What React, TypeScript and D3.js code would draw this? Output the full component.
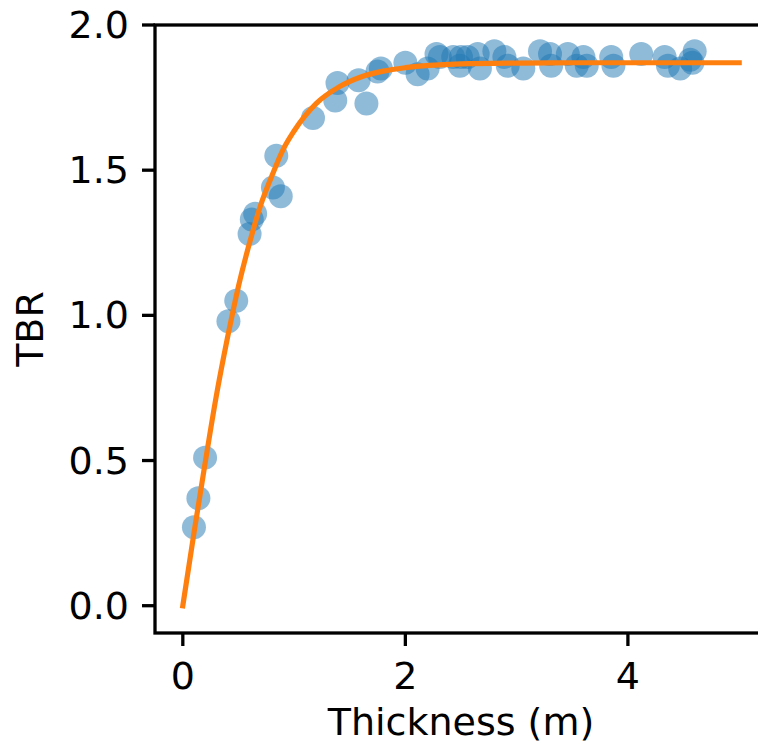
import { scaleLinear, line, curveMonotoneX } from 'd3'

// measured scatter points (thickness in m, TBR)
const thickness = [
  0.10, 0.14, 0.20, 0.41, 0.48, 0.60, 0.62, 0.65, 0.81, 0.88, 0.84,
  1.17, 1.37, 1.39, 1.58, 1.65, 1.75, 1.78, 2.00, 2.11, 2.20, 2.28,
  2.31, 2.43, 2.49, 2.50, 2.56, 2.65, 2.67, 2.80, 2.89, 2.92, 3.06,
  3.21, 3.30, 3.31, 3.46, 3.54, 3.60, 3.63, 3.85, 3.87, 4.12, 4.33,
  4.36, 4.47, 4.56, 4.60, 4.58,
]
const tbr = [
  0.27, 0.37, 0.51, 0.98, 1.05, 1.28, 1.33, 1.35, 1.44, 1.41, 1.55,
  1.68, 1.74, 1.80, 1.81, 1.73, 1.84, 1.85, 1.87, 1.83, 1.85, 1.90,
  1.89, 1.89, 1.86, 1.89, 1.89, 1.90, 1.85, 1.91, 1.89, 1.86, 1.85,
  1.91, 1.90, 1.86, 1.90, 1.86, 1.89, 1.86, 1.89, 1.86, 1.90, 1.89,
  1.86, 1.85, 1.88, 1.91, 1.87,
]

// fitted curve
const fitX = [0, 0.1, 0.2, 0.3, 0.4, 0.5, 0.6, 0.7, 0.8, 0.9, 1.0, 1.2, 1.4, 1.6, 1.8, 2.0, 2.5, 3.0, 3.5, 4.0, 4.5, 5.0]
const fitY = [0, 0.25, 0.49, 0.72, 0.92, 1.10, 1.25, 1.38, 1.48, 1.57, 1.635, 1.73, 1.786, 1.821, 1.841, 1.853, 1.866, 1.869, 1.87, 1.87, 1.87, 1.87]

const xTicks = [0, 2, 4]
const xTickLabels = ['0', '2', '4']
const yTicks = [0, 0.5, 1, 1.5, 2]
const yTickLabels = ['0.0', '0.5', '1.0', '1.5', '2.0']

function App() {
  const width = 758,
        height = 747
  const plot = { left: 155, right: 767, top: 25, bottom: 633 }
  const font = 'DejaVu Sans, sans-serif'
  const fs = 38
  const sw = 3.3

  const x = scaleLinear([-0.25, 5.25], [plot.left, plot.right])
  const y = scaleLinear([-0.094, 2.0], [plot.bottom, plot.top])

  const fitPath = line<number>()
    .x((_, i) => x(fitX[i]))
    .y(d => y(d))
    .curve(curveMonotoneX)(fitY)

  return (
    <svg width={width} height={height} viewBox={`0 0 ${width} ${height}`}
      style={{ position: 'absolute', left: 0, top: 0, background: '#fff' }}>
      <defs>
        <clipPath id='plot-clip'>
          <rect x={plot.left} y={plot.top} width={plot.right - plot.left} height={plot.bottom - plot.top} />
        </clipPath>
      </defs>

      <g clipPath='url(#plot-clip)'>
        {thickness.map((t, i) => (
          <circle key={i} cx={x(t)} cy={y(tbr[i])} r={12} fill='#1f77b4' fillOpacity={0.5} />
        ))}
        <path d={fitPath ?? ''} fill='none' stroke='#ff7f0e' strokeWidth={5.2} strokeLinecap='square' />
      </g>

      {/* frame */}
      <rect x={plot.left} y={plot.top} width={plot.right - plot.left} height={plot.bottom - plot.top}
        fill='none' stroke='#000' strokeWidth={sw} />

      {/* y axis */}
      {yTicks.map((t, i) => (
        <g key={t}>
          <line x1={plot.left - 13} x2={plot.left} y1={y(t)} y2={y(t)} stroke='#000' strokeWidth={sw} />
          <text x={plot.left - 26} y={y(t)} textAnchor='end' dominantBaseline='central'
            fontFamily={font} fontSize={fs}>{yTickLabels[i]}</text>
        </g>
      ))}

      {/* x axis */}
      {xTicks.map((t, i) => (
        <g key={t}>
          <line x1={x(t)} x2={x(t)} y1={plot.bottom} y2={plot.bottom + 13} stroke='#000' strokeWidth={sw} />
          <text x={x(t)} y={689} textAnchor='middle' fontFamily={font} fontSize={fs}>{xTickLabels[i]}</text>
        </g>
      ))}

      <text x={(plot.left + plot.right) / 2} y={735} textAnchor='middle' fontFamily={font} fontSize={fs}>
        Thickness (m)
      </text>
      <text transform={`translate(43, ${(plot.top + plot.bottom) / 2}) rotate(-90)`} textAnchor='middle'
        fontFamily={font} fontSize={fs}>
        TBR
      </text>
    </svg>
  )
}

export default App
